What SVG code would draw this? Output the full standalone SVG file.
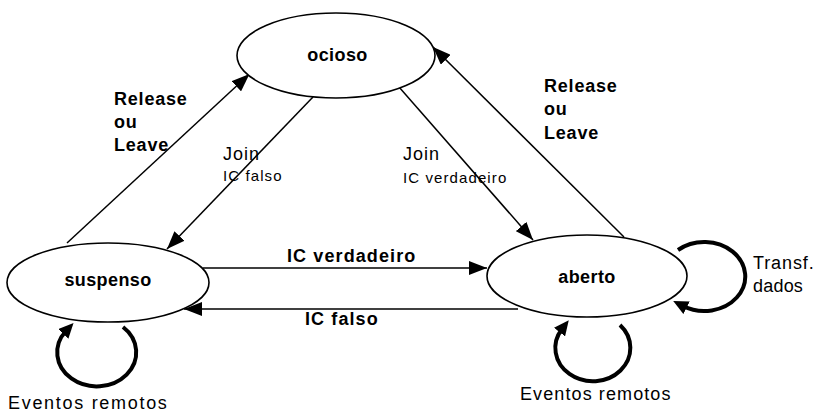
<svg xmlns="http://www.w3.org/2000/svg" width="819" height="411" viewBox="0 0 819 411">
<style>
.state{fill:#fff;stroke:#000;stroke-width:1.6}
.sname{font-family:"Liberation Sans",Arial,sans-serif;font-size:18px;font-weight:bold;letter-spacing:0.4px;text-anchor:middle;fill:#000}
.lbl{font-family:"Liberation Sans",Arial,sans-serif;font-size:18px;font-weight:bold;fill:#000}
.lblr{font-family:"Liberation Sans",Arial,sans-serif;font-size:18px;fill:#000}
.small{font-family:"Liberation Sans",Arial,sans-serif;font-size:15px;fill:#000;letter-spacing:1.1px}
.edge{fill:none;stroke:#000;stroke-width:1.5}
.loop{fill:none;stroke:#000;stroke-width:4}
</style>
<defs>
<marker id="arr" markerUnits="userSpaceOnUse" markerWidth="18" markerHeight="14" refX="18" refY="7" orient="auto">
<path d="M0,0 L18,7 L0,14 z" fill="#000"/>
</marker>
<marker id="larr" markerUnits="userSpaceOnUse" markerWidth="15" markerHeight="14" refX="4" refY="7" orient="auto">
<path d="M0,0 L15,7 L0,14 z" fill="#000"/>
</marker>
</defs>
<g id="connectors">
<path class="edge" d="M67,243 L249.5,74" marker-end="url(#arr)"/>
<path class="edge" d="M313,97 L167,249" marker-end="url(#arr)"/>
<path class="edge" d="M399,87 L533,240" marker-end="url(#arr)"/>
<path class="edge" d="M624,237 L433,47" marker-end="url(#arr)"/>
<path class="edge" d="M203,268 L487,268" marker-end="url(#arr)"/>
<path class="edge" d="M518,309 L184,309" marker-end="url(#arr)"/>
<path class="loop" d="M123,327 A39.5,34 0 1 1 66,331" marker-end="url(#larr)"/>
<path class="loop" d="M620,325 A37.5,33.3 0 1 1 562,329" marker-end="url(#larr)"/>
<path class="loop" d="M678,250 A41,34.5 0 1 1 683,306" marker-end="url(#larr)"/>
<text class="lbl" x="114" y="104.5" letter-spacing="0.8">Release</text>
<text class="lbl" x="114" y="127.5" letter-spacing="0.8">ou</text>
<text class="lbl" x="114" y="150.5" letter-spacing="0.8">Leave</text>
<text class="lbl" x="544" y="91.5" letter-spacing="0.8">Release</text>
<text class="lbl" x="544" y="115" letter-spacing="0.8">ou</text>
<text class="lbl" x="544" y="138.5" letter-spacing="0.8">Leave</text>
<text class="lblr" x="223" y="160" letter-spacing="1">Join</text>
<text class="small" x="223" y="180.5">IC falso</text>
<text class="lblr" x="403" y="159.5" letter-spacing="1">Join</text>
<text class="small" x="403" y="182.5">IC verdadeiro</text>
<text class="lbl" x="287" y="261.5" font-size="17" letter-spacing="1.1">IC verdadeiro</text>
<text class="lbl" x="305" y="324.5" font-size="17" letter-spacing="1.1">IC falso</text>
<text class="lblr" x="753" y="268.5" letter-spacing="0.9">Transf.</text>
<text class="lblr" x="753" y="291.5" letter-spacing="0.2">dados</text>
<text class="lblr" x="8" y="408.5" letter-spacing="1.7">Eventos remotos</text>
<text class="lblr" x="520" y="399.5" letter-spacing="1.1">Eventos remotos</text>
</g>
<g id="ocioso">
<ellipse class="state" cx="336" cy="55.5" rx="99" ry="42.5"/>
<text class="sname" x="337.5" y="61">ocioso</text>
</g>
<g id="suspenso">
<ellipse class="state" cx="108" cy="282.5" rx="101" ry="39.5"/>
<text class="sname" x="108" y="286">suspenso</text>
</g>
<g id="aberto">
<ellipse class="state" cx="587" cy="276" rx="100" ry="41"/>
<text class="sname" x="587" y="283">aberto</text>
</g>
</svg>
